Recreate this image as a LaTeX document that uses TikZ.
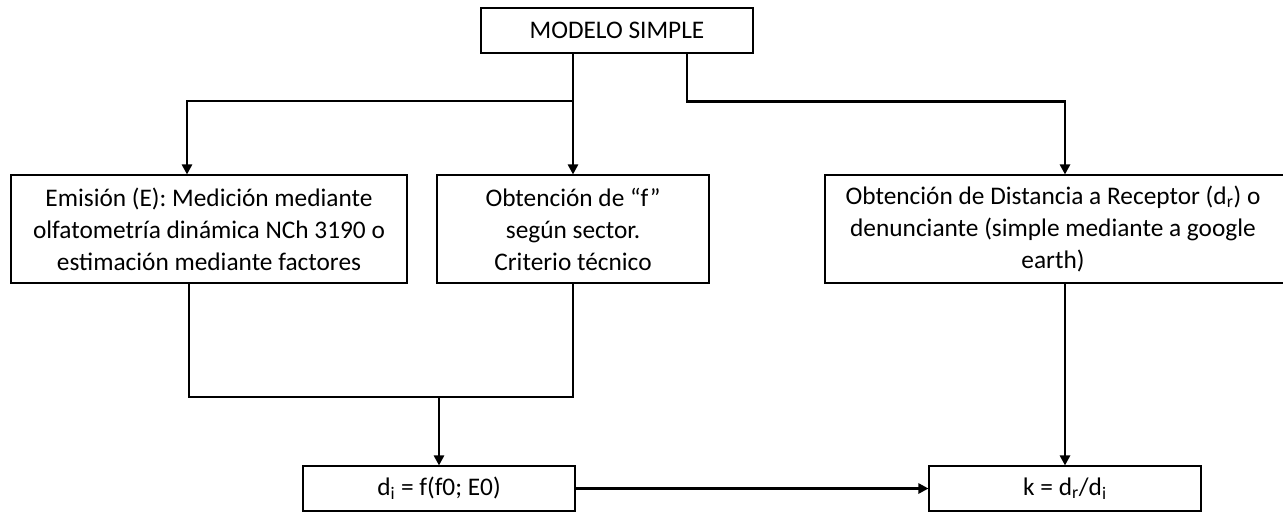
\documentclass[tikz,border=0pt]{standalone}
\usepackage{fontspec}
\setmainfont{Carlito}
\usetikzlibrary{arrows.meta}
\begin{document}
\begin{tikzpicture}[x=0.75pt,y=-0.75pt,
  every node/.style={font=\fontsize{19}{24}\selectfont},
  box/.style={draw=black,line width=0.8pt,fill=white,align=center,inner sep=0pt},
  conn/.style={line width=2.1pt,draw=black},
  arr/.style={conn,-{Triangle[length=7.5pt,width=7.5pt]}}]
\clip (0,0) rectangle (1283,512);
\fill[white] (0,0) rectangle (1283,512);

% boxes
\node[box,minimum width=204pt,minimum height=33.75pt] (top) at (617,30.5) {MODELO SIMPLE};
\node[box,minimum width=297pt,minimum height=81pt] (emi) at (209,229)
  {Emisión (E): Medición mediante\\olfatometría dinámica NCh 3190 o\\estimación mediante factores};
\node[box,minimum width=204pt,minimum height=81pt] (fsec) at (573,229)
  {Obtención de “f”\\según sector.\\Criterio técnico};
\node[box,minimum width=360pt,minimum height=81pt] (dist) at (1065,229) {};
\node[align=center,inner sep=0pt] (disttxt) at (1053,229)
  {Obtención de Distancia a Receptor (d\textsubscript{r}) o\\denunciante (simple mediante a google\\earth)};
\node[box,minimum width=204pt,minimum height=33.75pt] (di) at (439,488.5) {d\textsubscript{i} = f(f0; E0)};
\node[box,minimum width=204pt,minimum height=33.75pt] (k) at (1065,488.5) {k = d\textsubscript{r}/d\textsubscript{i}};

% split from the top box
\coordinate (j1) at (573,101);
\draw[arr] (top.south -| fsec.north) -- (fsec.north);
\draw[arr] (j1) -| ([xshift=-16.5pt]emi.north);
\draw[arr] ([xshift=52.5pt]top.south) -- ++(0,48) -| (dist.north);

% merge into d_i
\coordinate (m) at (439,397);
\draw[conn] ([xshift=-15pt]emi.south) |- (m) -| (fsec.south);
\draw[arr] (m) -- (di.north);

% to k
\draw[arr] (dist.south) -- (k.north);
\draw[arr] (di.east) -- (k.west);
\end{tikzpicture}
\end{document}
